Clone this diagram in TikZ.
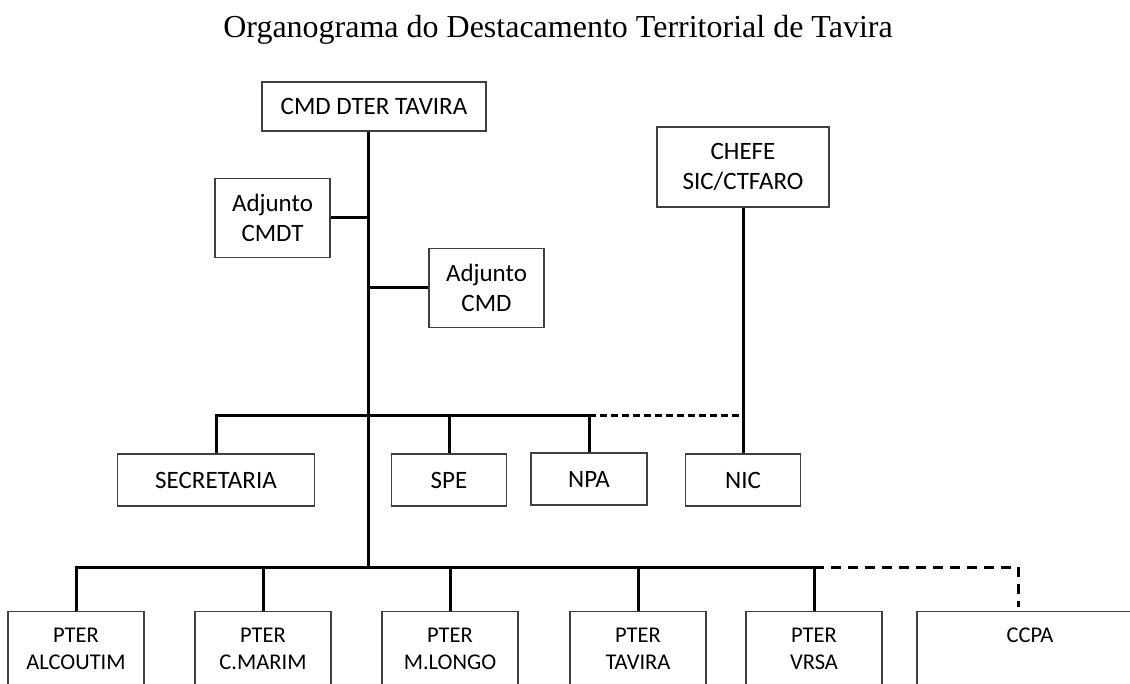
\documentclass[tikz,border=0pt]{standalone}
\usepackage{fontspec}
\setmainfont{Liberation Serif}
\newfontfamily\boxfont{Carlito}
\usetikzlibrary{calc}

\begin{document}
\begin{tikzpicture}[x=1pt,y=-1pt,
    link/.style={line width=3pt},
    dlink/.style={line width=3pt,dash pattern=on 10pt off 7pt},
    slink/.style={line width=3pt,dash pattern=on 7pt off 4pt},
    unit/.style={draw=black!75,line width=1.2pt,inner sep=0pt,align=center,font=\boxfont\fontsize{25}{30}\selectfont},
    post/.style={unit,anchor=north,minimum width=136pt,inner ysep=16pt,text depth=60pt,font=\boxfont\fontsize{22.5}{27}\selectfont}]
    \useasboundingbox (0,0) rectangle (1130,684);
    \clip (0,0) rectangle (1130,684);

    \node[anchor=base,font=\fontsize{32}{36}\selectfont] (title) at (558,38) {Organograma do Destacamento Territorial de Tavira};

    \node[unit,minimum width=224pt,minimum height=49pt] (cmd) at (374,106.5) {CMD DTER TAVIRA};
    \node[unit,minimum width=115pt,minimum height=79pt] (adjcmdt) at (272.5,218) {Adjunto\\CMDT};
    \node[unit,minimum width=115pt,minimum height=79pt] (adjcmd) at (486.5,288) {Adjunto\\CMD};
    \node[unit,minimum width=172pt,minimum height=80pt] (chefe) at (743,167) {CHEFE\\SIC/CTFARO};

    \node[unit,minimum width=197pt,minimum height=52pt] (sec) at (216,480) {SECRETARIA};
    \node[unit,minimum width=115pt,minimum height=52pt] (spe) at (449,480) {SPE};
    \node[unit,minimum width=116pt,minimum height=52pt] (npa) at (589,479) {NPA};
    \node[unit,minimum width=115pt,minimum height=52pt] (nic) at (743,480) {NIC};

    \node[post] (alc) at (76,611) {PTER\\ALCOUTIM};
    \node[post] (cmarim) at (263,611) {PTER\\C.MARIM};
    \node[post] (mlongo) at (450,611) {PTER\\M.LONGO};
    \node[post] (tav) at (638,611) {PTER\\TAVIRA};
    \node[post] (vrsa) at (814,611) {PTER\\VRSA};
    \node[post,minimum width=226pt] (ccpa) at (1030,611) {CCPA};

    \coordinate (bus1) at (368,416);
    \coordinate (bus2) at (368,567);
    \coordinate (ccpatop) at (1018,607);

    \draw[link] (cmd.south -| bus2) -- (bus2);
    \draw[link] (adjcmdt.east) -- (adjcmdt.east -| bus2);
    \draw[link] (adjcmd.west) -- (adjcmd.west -| bus2);
    \draw[link] (chefe.south) -- (nic.north);

    \draw[link] (sec.north) -- (sec.north |- bus1) -- (npa.north |- bus1) -- (npa.north);
    \draw[link] (spe.north) -- (spe.north |- bus1);
    \draw[slink] (npa.north |- bus1) -- (nic.north |- bus1);

    \draw[link] (alc.north) -- (alc.north |- bus2) -- (vrsa.north |- bus2) -- (vrsa.north);
    \foreach \n in {cmarim,mlongo,tav}
        \draw[link] (\n.north) -- (\n.north |- bus2);
    \draw[dlink] (vrsa.north |- bus2) -| (ccpatop);
\end{tikzpicture}
\end{document}
